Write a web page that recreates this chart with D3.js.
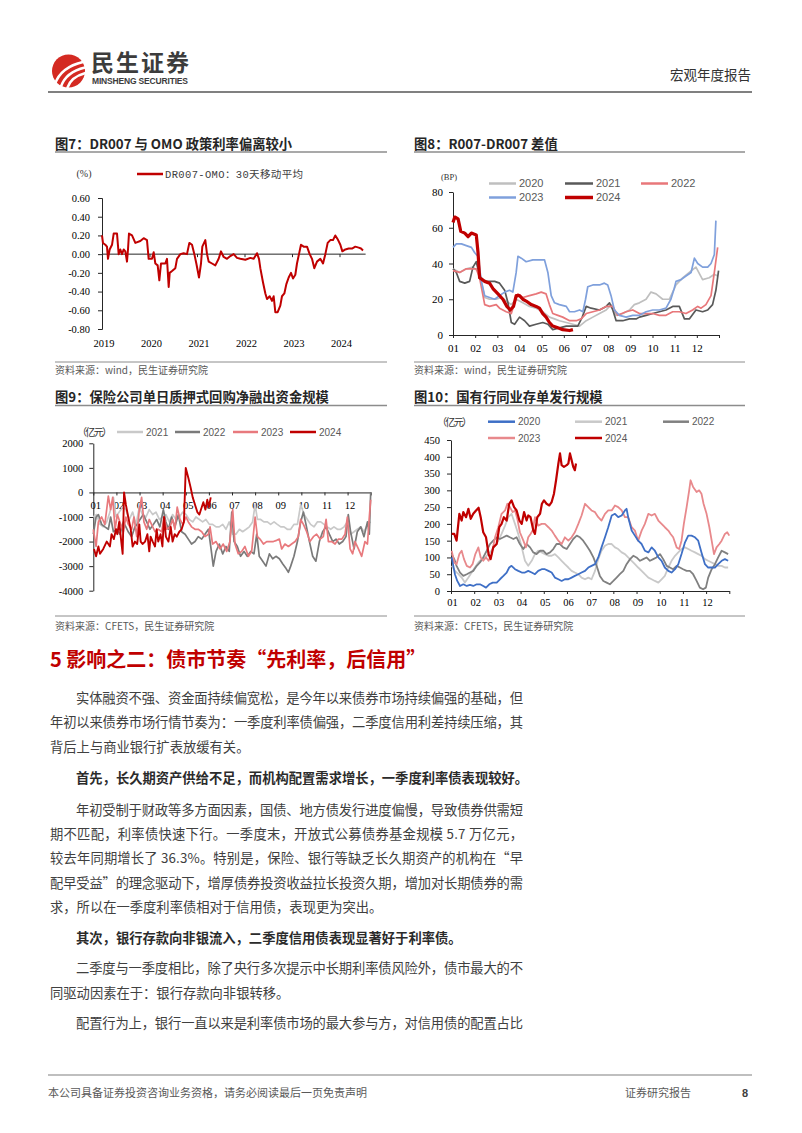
<!DOCTYPE html>
<html><head><meta charset="utf-8">
<script src="https://cdn.jsdelivr.net/npm/d3@7"></script>
<style>html,body{margin:0;padding:0;background:#fff;}svg{display:block;}</style>
</head><body>
<svg id="page" width="802" height="1133"></svg>
<script>
// ---------------- DATA ----------------
// Fig 7: DR007-OMO 30-day moving average, [decimal year, %]
const c7Series = [[2019.00,0.20],[2019.02,0.12],[2019.07,0.10],[2019.105,0.08],[2019.126,-0.05],[2019.161,0.05],[2019.211,0.10],[2019.246,0.22],[2019.316,0.22],[2019.351,0.00],[2019.386,0.05],[2019.421,0.00],[2019.456,0.05],[2019.491,0.03],[2019.526,-0.08],[2019.547,0.05],[2019.568,0.22],[2019.632,0.20],[2019.702,0.12],[2019.807,0.14],[2019.877,0.17],[2019.947,0.15],[2019.982,-0.05],[2020.053,-0.05],[2020.088,0.02],[2020.123,-0.10],[2020.172,-0.12],[2020.207,-0.28],[2020.242,-0.10],[2020.333,-0.10],[2020.368,-0.05],[2020.404,-0.35],[2020.425,-0.20],[2020.474,-0.18],[2020.544,-0.15],[2020.579,-0.05],[2020.649,0.00],[2020.719,0.01],[2020.789,0.00],[2020.839,0.12],[2020.895,0.10],[2020.944,0.00],[2020.986,-0.10],[2021.042,-0.25],[2021.084,-0.10],[2021.112,0.08],[2021.175,0.15],[2021.211,0.00],[2021.246,-0.08],[2021.316,-0.10],[2021.386,-0.12],[2021.456,-0.05],[2021.505,0.03],[2021.561,-0.03],[2021.632,-0.05],[2021.702,-0.02],[2021.772,0.00],[2021.842,-0.04],[2021.912,-0.05],[2022.018,-0.06],[2022.123,-0.04],[2022.193,-0.05],[2022.263,0.01],[2022.305,-0.05],[2022.333,-0.15],[2022.389,-0.30],[2022.439,-0.42],[2022.474,-0.48],[2022.530,-0.45],[2022.579,-0.50],[2022.614,-0.45],[2022.649,-0.62],[2022.698,-0.62],[2022.754,-0.55],[2022.789,-0.45],[2022.839,-0.42],[2022.881,-0.32],[2022.930,-0.25],[2022.979,-0.20],[2023.021,-0.26],[2023.070,-0.22],[2023.105,-0.10],[2023.147,0.00],[2023.189,0.10],[2023.246,0.08],[2023.316,0.08],[2023.372,0.00],[2023.421,-0.05],[2023.470,-0.15],[2023.526,-0.08],[2023.596,-0.05],[2023.653,-0.10],[2023.702,0.00],[2023.751,0.12],[2023.807,0.15],[2023.863,0.15],[2023.912,0.20],[2023.961,0.16],[2024.018,0.10],[2024.060,0.03],[2024.123,0.05],[2024.193,0.06],[2024.263,0.06],[2024.333,0.08],[2024.404,0.07],[2024.453,0.06],[2024.495,0.04]];
const c7YTicks = [-0.8,-0.6,-0.4,-0.2,0,0.2,0.4,0.6];
const c7Years = [2019,2020,2021,2022,2023,2024];

// Fig 8: R007-DR007 spread (BP), [month offset, value]
const c8_2020 = [[0,37],[0.30,35],[0.60,37],[0.90,38],[1.20,35],[1.43,21],[1.65,20],[1.95,20],[2.18,21],[2.40,19],[2.63,17],[2.85,20],[3.15,18],[3.45,16],[3.75,15],[4.05,13],[4.35,10],[4.58,9],[4.80,8],[5.11,7],[5.41,6],[5.71,5],[6.01,8],[6.31,10],[6.61,12],[6.91,14],[7.13,17],[7.36,11],[7.66,12],[7.96,14],[8.18,17],[8.41,18],[8.71,20],[8.93,24],[9.16,23],[9.46,20],[9.76,20],[10.06,28],[10.36,32],[10.66,35],[10.96,38],[11.26,31],[11.56,32],[11.79,34],[11.94,33]];
const c8_2021 = [[0,37],[0.15,35],[0.30,30],[0.53,29],[0.75,30],[0.90,38],[1.05,41],[1.20,33],[1.43,30],[1.65,30],[1.88,30],[2.10,29],[2.33,25],[2.48,18],[2.63,7],[2.78,6],[3.00,10],[3.23,8],[3.45,5],[3.75,6],[4.05,7],[4.28,6],[4.50,3],[4.80,4],[5.11,5],[5.41,5],[5.63,5],[5.83,10],[6.01,16],[6.23,15],[6.61,14],[6.91,16],[7.06,18],[7.21,14],[7.36,8],[7.66,8],[7.96,9],[8.26,9],[8.41,10],[8.71,11],[9.01,12],[9.31,13],[9.61,14],[9.91,16],[10.21,16],[10.44,9],[10.66,9],[10.96,14],[11.26,13],[11.49,14],[11.71,17],[11.86,25],[11.98,36]];
const c8_2022 = [[0,36],[0.30,35],[0.60,37],[0.90,37],[1.05,37],[1.20,32],[1.43,17],[1.65,16],[1.95,17],[2.10,15],[2.40,13],[2.63,12],[2.78,18],[2.93,23],[3.15,21],[3.45,22],[3.75,23],[3.98,24],[4.20,23],[4.35,17],[4.50,12],[4.73,11],[4.95,10],[5.26,8],[5.56,8],[5.78,9],[6.01,12],[6.31,13],[6.61,14],[6.91,16],[7.21,16],[7.43,11],[7.81,13],[8.11,14],[8.41,12],[8.71,12],[9.01,12],[9.31,11],[9.61,11],[9.91,13],[10.21,13],[10.51,12],[10.81,14],[11.04,16],[11.19,15],[11.41,17],[11.64,22],[11.79,35],[11.94,49]];
const c8_2023 = [[0,49],[0.15,51],[0.38,51],[0.60,50],[0.83,49],[0.98,46],[1.13,44],[1.28,30],[1.43,22],[1.65,21],[1.88,20],[2.10,22],[2.33,24],[2.55,25],[2.70,24],[2.85,35],[2.93,44],[3.08,43],[3.30,41],[3.60,42],[3.90,42],[4.13,42],[4.28,35],[4.43,22],[4.58,18],[4.80,17],[5.11,16],[5.26,13],[5.48,13],[5.71,14],[5.86,13],[5.98,20],[6.08,27],[6.31,28],[6.61,28],[6.83,29],[6.98,28],[7.13,22],[7.28,14],[7.51,11],[7.81,10],[8.11,11],[8.41,11],[8.71,13],[9.01,14],[9.31,14],[9.61,15],[9.83,20],[9.98,26],[10.06,30],[10.29,31],[10.51,33],[10.74,35],[10.89,43],[11.04,40],[11.26,38],[11.49,38],[11.64,40],[11.79,45],[11.86,64]];
const c8_2024 = [[0,63],[0.08,66],[0.23,65],[0.35,58],[0.53,57],[0.68,55],[0.83,57],[1.05,56],[1.13,46],[1.20,32],[1.43,30],[1.65,29],[1.80,26],[2.03,23],[2.25,20],[2.43,16],[2.58,14],[2.73,16],[2.85,22],[3.00,22],[3.15,20],[3.30,19],[3.53,17],[3.75,16],[3.90,15],[4.05,12],[4.20,10],[4.35,7],[4.50,5],[4.73,4],[4.95,3],[5.26,2.5],[5.41,3]];
const c8YTicks = [0,20,40,60,80];

// Fig 9: insurers' net repo lending (亿元), [month offset, value]
const c9_2021 = [[0,-1000],[0.14,-900],[0.29,-1300],[0.43,-1400],[0.58,-1200],[0.72,-800],[0.87,-200],[0.98,-1000],[1.12,-800],[1.27,-600],[1.41,-700],[1.56,-1100],[1.70,-800],[1.85,-1300],[1.99,-600],[2.13,-900],[2.28,-1000],[2.42,-700],[2.57,-900],[2.71,-800],[2.86,-1100],[3.00,-1000],[3.14,-900],[3.29,-1200],[3.43,-900],[3.58,-1100],[3.72,-1000],[3.87,-800],[4.01,-900],[4.15,-1100],[4.30,-1200],[4.44,-1000],[4.59,-1100],[4.73,-1200],[4.87,-1100],[5.02,-1300],[5.16,-1300],[5.31,-1400],[5.45,-1400],[5.60,-1300],[5.74,-1500],[5.88,-1200],[6.03,-1700],[6.17,-1700],[6.32,-1500],[6.46,-1600],[6.61,-1500],[6.75,-1400],[6.89,-1200],[7.00,-500],[7.10,-1100],[7.24,-1100],[7.38,-1200],[7.53,-1200],[7.67,-1300],[7.82,-1200],[7.96,-1300],[8.11,-1400],[8.25,-1400],[8.39,-1500],[8.54,-1500],[8.68,-1300],[8.83,-1300],[8.97,-500],[9.12,-900],[9.26,-1100],[9.40,-1300],[9.55,-1400],[9.69,-1200],[9.84,-1200],[9.98,-1300],[10.12,-1400],[10.27,-1500],[10.41,-1400],[10.56,-1500],[10.70,-1500],[10.85,-1400],[10.99,-1200],[11.13,-1700],[11.28,-1600],[11.42,-1500],[11.57,-1400],[11.71,-1600],[11.86,-1300],[12.00,-1200]];
const c9_2022 = [[0,-1700],[0.12,-1000],[0.22,-900],[0.36,-1300],[0.50,-1400],[0.65,-1500],[0.75,-1000],[0.87,-1600],[1.01,-1500],[1.15,-1700],[1.30,-1200],[1.41,-1400],[1.51,-1600],[1.66,-1800],[1.80,-1400],[1.90,-1300],[2.02,-1100],[2.16,-900],[2.31,-1200],[2.45,-1500],[2.60,-1300],[2.74,-1100],[2.88,-1400],[3.03,-700],[3.14,-1200],[3.25,-1500],[3.39,-1000],[3.53,-1400],[3.68,-900],[3.82,-1600],[3.97,-1700],[4.11,-1900],[4.25,-2100],[4.40,-2000],[4.54,-1800],[4.69,-1900],[4.83,-1700],[4.98,-1500],[5.08,-2200],[5.19,-3000],[5.31,-2400],[5.45,-2100],[5.60,-2500],[5.74,-2200],[5.88,-2400],[5.99,-800],[6.09,-2000],[6.23,-2200],[6.37,-2600],[6.52,-2400],[6.66,-2600],[6.81,-2400],[6.95,-2500],[7.07,-1700],[7.18,-2600],[7.33,-2800],[7.47,-3000],[7.62,-2500],[7.76,-2700],[7.90,-2600],[8.05,-2700],[8.19,-2900],[8.34,-3100],[8.44,-3250],[8.54,-3000],[8.68,-2600],[8.83,-2000],[8.97,-1200],[9.09,-800],[9.20,-1300],[9.35,-2000],[9.49,-2600],[9.63,-2800],[9.78,-2000],[9.92,-1600],[10.07,-1400],[10.21,-1700],[10.36,-2000],[10.50,-1900],[10.64,-2100],[10.79,-2000],[10.93,-1800],[11.03,-900],[11.13,-1600],[11.28,-2300],[11.42,-1600],[11.57,-1400],[11.71,-1800],[11.86,-1200],[11.94,-1700],[12.00,0]];
const c9_2023 = [[0,-1500],[0.12,-2200],[0.22,-1200],[0.36,-1000],[0.50,-1300],[0.65,-150],[0.75,-700],[0.84,-200],[0.94,-1500],[1.04,-900],[1.15,-1200],[1.30,-1600],[1.41,-1000],[1.51,-1300],[1.66,-1500],[1.76,-1000],[1.88,-1800],[1.99,-700],[2.09,-200],[2.19,-1200],[2.31,-1500],[2.42,-1100],[2.52,-1300],[2.67,-1600],[2.81,-1500],[2.96,-1600],[3.06,-1000],[3.17,-1500],[3.32,-1400],[3.43,-1100],[3.53,-1500],[3.63,-600],[3.75,-1100],[3.87,-1300],[4.01,-1000],[4.11,-1200],[4.25,-1400],[4.40,-1500],[4.54,-1500],[4.69,-1600],[4.83,-1800],[4.98,-1700],[5.05,-1400],[5.16,-2100],[5.31,-2000],[5.48,-2300],[5.62,-2100],[5.77,-2400],[5.91,-2000],[6.03,-700],[6.13,-2100],[6.27,-2500],[6.42,-2400],[6.56,-2200],[6.71,-2600],[6.85,-2400],[7.00,-1000],[7.10,-1800],[7.21,-1900],[7.36,-2100],[7.50,-2000],[7.64,-2000],[7.79,-2000],[7.93,-1950],[8.05,-1900],[8.15,-2300],[8.29,-2100],[8.44,-2200],[8.58,-2100],[8.73,-2000],[8.87,-1800],[8.97,-1100],[9.09,-1300],[9.23,-1600],[9.37,-2000],[9.52,-1800],[9.66,-1700],[9.81,-1900],[9.95,-1800],[10.07,-1100],[10.17,-2000],[10.31,-2000],[10.46,-2100],[10.60,-1900],[10.75,-1900],[10.89,-1700],[10.99,-1000],[11.11,-2300],[11.22,-2500],[11.32,-2000],[11.47,-2300],[11.61,-2600],[11.75,-2000],[11.86,-2100],[11.94,-1000],[12.00,-300]];
const c9_2024 = [[0.03,-2300],[0.12,-2600],[0.22,-2200],[0.29,-2500],[0.43,-2300],[0.58,-2000],[0.72,-2200],[0.79,-1700],[0.89,-1900],[0.98,-1500],[1.04,-1700],[1.12,-1200],[1.21,-2000],[1.27,-2500],[1.33,0],[1.41,-500],[1.51,-1000],[1.62,-1500],[1.70,-2200],[1.80,-2000],[1.90,-2100],[1.99,-1300],[2.05,-2000],[2.13,-2100],[2.24,-2000],[2.34,-1700],[2.42,-2400],[2.48,-1800],[2.57,-2000],[2.67,-2200],[2.74,-1500],[2.81,-2000],[2.91,-1700],[2.99,-2200],[3.06,-1000],[3.14,-1800],[3.25,-2000],[3.35,-1400],[3.43,-2000],[3.52,-1700],[3.61,-1800],[3.72,-1600],[3.82,-1500],[3.92,-1200],[4.00,1000],[4.11,600],[4.21,200],[4.30,-200],[4.40,-500],[4.50,-800],[4.59,-900],[4.69,-600],[4.76,-400],[4.85,-700],[4.93,-300],[5.00,-600],[5.08,-200]];
const c9YTicks = [-4000,-3000,-2000,-1000,0,1000,2000];

// Fig 10: big-bank NCD issuance (亿元), [month offset, value]
const c10_2020 = [[0.03,100],[0.10,75],[0.17,50],[0.27,30],[0.39,15],[0.53,20],[0.68,15],[0.82,18],[0.96,15],[1.11,20],[1.25,20],[1.39,15],[1.51,10],[1.65,20],[1.80,25],[1.97,25],[2.11,35],[2.26,45],[2.40,55],[2.51,70],[2.61,75],[2.76,65],[2.90,60],[3.05,55],[3.19,55],[3.33,60],[3.48,55],[3.62,50],[3.76,60],[3.91,65],[4.05,65],[4.20,60],[4.34,55],[4.48,40],[4.63,35],[4.77,30],[4.91,35],[5.06,35],[5.20,40],[5.34,45],[5.49,50],[5.63,55],[5.78,60],[5.92,70],[6.06,75],[6.21,80],[6.35,100],[6.49,130],[6.64,160],[6.78,190],[6.93,225],[7.07,230],[7.21,220],[7.36,225],[7.50,240],[7.57,245],[7.64,220],[7.79,180],[7.93,165],[8.07,150],[8.22,140],[8.36,120],[8.51,115],[8.65,130],[8.79,120],[8.94,100],[9.08,90],[9.22,70],[9.37,60],[9.51,55],[9.66,65],[9.80,80],[9.94,110],[10.09,145],[10.23,165],[10.37,165],[10.52,160],[10.66,150],[10.80,115],[10.95,80],[11.09,70],[11.24,70],[11.38,70],[11.52,80],[11.67,90],[11.81,95],[11.95,90]];
const c10_2021 = [[0.03,75],[0.17,60],[0.32,50],[0.46,40],[0.60,25],[0.75,40],[0.89,55],[1.03,70],[1.18,85],[1.32,95],[1.47,100],[1.61,110],[1.75,120],[1.90,135],[2.04,150],[2.18,170],[2.33,195],[2.47,220],[2.61,230],[2.76,200],[2.90,170],[3.05,130],[3.19,90],[3.33,75],[3.48,90],[3.62,110],[3.76,120],[3.91,115],[4.05,110],[4.20,105],[4.34,105],[4.48,110],[4.63,100],[4.77,90],[4.91,80],[5.06,70],[5.20,60],[5.34,55],[5.49,50],[5.63,40],[5.78,35],[5.92,40],[6.06,35],[6.21,60],[6.35,95],[6.49,120],[6.64,135],[6.78,140],[6.93,140],[7.07,130],[7.21,125],[7.36,115],[7.50,110],[7.64,100],[7.79,90],[7.93,80],[8.07,70],[8.22,60],[8.36,50],[8.51,40],[8.65,35],[8.79,30],[8.94,25],[9.08,35],[9.22,45],[9.37,70],[9.51,90],[9.66,105],[9.80,115],[9.94,125],[10.09,130],[10.23,125],[10.37,120],[10.52,115],[10.66,110],[10.80,105],[10.95,95],[11.09,90],[11.24,85],[11.38,80],[11.52,75],[11.67,75],[11.81,70],[11.95,70]];
const c10_2022 = [[0.03,110],[0.14,95],[0.24,75],[0.39,55],[0.53,45],[0.68,50],[0.82,55],[0.96,60],[1.11,75],[1.25,85],[1.39,100],[1.54,120],[1.68,140],[1.82,150],[1.97,160],[2.11,155],[2.26,160],[2.40,165],[2.54,160],[2.69,155],[2.83,160],[2.97,140],[3.12,125],[3.26,140],[3.41,130],[3.55,115],[3.69,110],[3.84,120],[3.98,120],[4.12,110],[4.27,115],[4.41,125],[4.55,140],[4.70,140],[4.84,130],[4.99,125],[5.13,140],[5.27,155],[5.42,165],[5.56,160],[5.70,150],[5.85,135],[5.99,120],[6.14,100],[6.28,75],[6.42,45],[6.57,30],[6.71,25],[6.85,20],[7.00,30],[7.14,40],[7.28,50],[7.43,60],[7.57,80],[7.72,95],[7.86,105],[8.00,100],[8.15,90],[8.29,95],[8.43,100],[8.58,90],[8.72,95],[8.86,100],[9.01,110],[9.15,95],[9.30,75],[9.44,70],[9.58,65],[9.73,75],[9.87,70],[10.01,65],[10.16,60],[10.30,60],[10.44,50],[10.59,30],[10.73,10],[10.87,5],[10.99,10],[11.09,40],[11.24,65],[11.38,80],[11.52,100],[11.67,120],[11.81,115],[11.95,110]];
const c10_2023 = [[0.03,120],[0.14,85],[0.24,80],[0.36,110],[0.46,120],[0.56,95],[0.68,75],[0.82,70],[0.93,80],[1.05,110],[1.18,130],[1.28,100],[1.39,90],[1.51,100],[1.62,90],[1.75,110],[1.90,160],[2.04,190],[2.18,230],[2.33,240],[2.43,260],[2.54,250],[2.66,235],[2.76,240],[2.86,215],[2.97,175],[3.12,150],[3.23,130],[3.33,160],[3.43,170],[3.52,180],[3.62,220],[3.76,195],[3.91,200],[4.05,200],[4.20,190],[4.34,180],[4.48,165],[4.63,150],[4.77,140],[4.91,160],[5.06,150],[5.20,160],[5.34,175],[5.49,200],[5.63,225],[5.78,260],[5.92,250],[6.06,240],[6.21,235],[6.35,220],[6.49,210],[6.64,230],[6.78,240],[6.93,240],[7.07,255],[7.21,250],[7.36,240],[7.50,220],[7.64,220],[7.79,190],[7.93,180],[8.07,150],[8.22,180],[8.36,200],[8.51,230],[8.65,225],[8.79,230],[8.94,210],[9.08,200],[9.22,190],[9.37,180],[9.47,170],[9.58,160],[9.73,130],[9.84,125],[9.94,150],[10.04,200],[10.16,250],[10.27,300],[10.33,330],[10.44,310],[10.59,295],[10.70,300],[10.80,290],[10.89,260],[11.02,230],[11.14,190],[11.24,150],[11.34,110],[11.45,130],[11.57,140],[11.67,150],[11.81,170],[11.91,175],[12.00,165]];
const c10_2024 = [[0.03,170],[0.14,170],[0.24,150],[0.36,230],[0.46,210],[0.53,235],[0.65,220],[0.75,245],[0.85,215],[0.96,230],[1.08,240],[1.19,248],[1.28,220],[1.39,175],[1.51,160],[1.62,110],[1.71,95],[1.82,130],[1.97,140],[2.08,190],[2.18,200],[2.28,220],[2.40,210],[2.51,260],[2.61,270],[2.72,250],[2.83,240],[2.95,210],[3.05,200],[3.15,235],[3.26,210],[3.33,225],[3.43,220],[3.55,180],[3.62,170],[3.72,220],[3.84,230],[3.92,260],[4.01,270],[4.12,260],[4.24,255],[4.34,265],[4.44,290],[4.53,330],[4.63,380],[4.70,410],[4.77,375],[4.87,370],[4.99,375],[5.06,380],[5.13,410],[5.20,390],[5.27,370],[5.34,360],[5.39,380]];
const c10YTicks = [0,50,100,150,200,250,300,350,400,450];

const monthLabels = ["01","02","03","04","05","06","07","08","09","10","11","12"];

// ---------------- HELPERS ----------------
const svg = d3.select("#page");
const CJK = "'Noto Sans CJK SC','Noto Sans',sans-serif";
const SERIF = "'Liberation Serif','Times New Roman',serif";
const SANS = "'Liberation Sans',Arial,sans-serif";
const MONO = "'Liberation Mono','Noto Sans CJK SC',monospace";

function txt(x, y, s, o = {}) {
  const t = svg.append("text").attr("x", x).attr("y", y).text(s)
    .attr("font-family", o.family || CJK).attr("font-size", o.size || 12)
    .attr("fill", o.fill || "#333").attr("font-weight", o.weight || 400)
    .attr("text-anchor", o.anchor || "start");
  if (o.len) t.attr("textLength", o.len).attr("lengthAdjust", "spacing");
  return t;
}
function hline(x1, x2, y, color, w) {
  svg.append("line").attr("x1", x1).attr("x2", x2).attr("y1", y).attr("y2", y)
    .attr("stroke", color).attr("stroke-width", w);
}
function chartTitle(x, y, s, x2, ly) {
  txt(x, y, s, {size: 13.3, weight: 700, fill: "#262626"});
  hline(x, x2, ly, "#8c8c8c", 1.5);
}
function styleAxis(g, size, family) {
  g.attr("font-family", family).attr("font-size", size);
  g.select(".domain").attr("stroke", "#262626").attr("stroke-width", 1);
  g.selectAll(".tick line").attr("stroke", "#262626");
  g.selectAll(".tick text").attr("fill", "#000");
}
function legendItem(x1, x2, y, color, w, label, size, family) {
  hline(x1, x2, y, color, w);
  txt(x2 + 3, y + size * 0.36, label, {size: size, family: family || SANS, fill: "#595959"});
}
function drawLine(data, x, y, color, w) {
  svg.append("path").datum(data)
    .attr("d", d3.line().x(d => x(d[0])).y(d => y(d[1])))
    .attr("fill", "none").attr("stroke", color).attr("stroke-width", w)
    .attr("stroke-linejoin", "round");
}

// ---------------- HEADER ----------------
svg.append("circle").attr("cx", 68.5).attr("cy", 71).attr("r", 16.5).attr("fill", "#d42a22");
[["M55,84 Q61,67 83,62",2.6],["M61,86.5 Q66,72 85,67.5",2.6],["M67.5,87.5 Q71,77 85.5,73",2.4]].forEach(p=>{
  svg.append("path").attr("d", p[0]).attr("fill","none").attr("stroke","#fff").attr("stroke-width",p[1]).attr("stroke-linecap","round");
});
txt(91, 71, "民生证券", {size: 23, weight: 700, fill: "#3c3c3c", len: 98});
txt(92, 84, "MINSHENG SECURITIES", {size: 8.5, weight: 700, fill: "#3c3c3c", family: SANS, len: 96});
txt(751, 80, "宏观年度报告", {size: 13.5, fill: "#333", anchor: "end"});
hline(48, 752, 92, "#808080", 2);

// ---------------- FIG 7 ----------------
chartTitle(55, 148.5, "图7：DR007 与 OMO 政策利率偏离较小", 387, 152);
{
  const x = d3.scaleLinear().domain([2019, 2025]).range([102, 387]);
  const y = d3.scaleLinear().domain([-0.8, 0.6]).range([329, 198]);
  const ga = svg.append("g").attr("transform", "translate(102,0)")
    .call(d3.axisLeft(y).tickValues(c7YTicks).tickFormat(d => d.toFixed(2)).tickSize(4).tickPadding(8));
  styleAxis(ga, 10.5, SERIF);
  const gx = svg.append("g").attr("transform", `translate(0,${y(0)})`)
    .call(d3.axisBottom(x).tickValues(c7Years).tickFormat("").tickSize(3).tickSizeOuter(0));
  gx.select(".domain").attr("d", `M${x(2019)},0H${x(2024.55)}`).attr("stroke", "#262626");
  gx.selectAll(".tick line").attr("stroke", "#262626");
  c7Years.forEach(yr => txt(x(yr) + 2, 347, String(yr), {size: 10.5, family: SERIF, fill: "#000", anchor: "middle"}));
  drawLine(c7Series, x, y, "#c00000", 2);
  txt(84, 177, "(%)", {size: 10, family: SERIF, fill: "#333", anchor: "middle"});
  hline(137, 163, 174, "#c00000", 2.5);
  txt(165, 177.5, "DR007-OMO：30天移动平均", {size: 10.5, family: MONO, fill: "#404040", len: 138});
}
hline(55, 387, 362, "#8c8c8c", 1);
txt(55, 374, "资料来源：wind，民生证券研究院", {size: 10, fill: "#595959"});

// ---------------- FIG 8 ----------------
chartTitle(414, 148.5, "图8：R007-DR007 差值", 745, 152);
{
  const x = d3.scaleLinear().domain([0, 12]).range([453, 719]);
  const y = d3.scaleLinear().domain([0, 80]).range([335, 192]);
  const ga = svg.append("g").attr("transform", "translate(453,0)")
    .call(d3.axisLeft(y).tickValues(c8YTicks).tickFormat(d => String(d)).tickSize(4).tickPadding(6).tickSizeOuter(0));
  styleAxis(ga, 11, SERIF);
  const gx = svg.append("g").attr("transform", `translate(0,${y(0)})`)
    .call(d3.axisBottom(x).tickValues(d3.range(0, 13)).tickFormat(i => monthLabels[i] || "").tickSize(3).tickPadding(6).tickSizeOuter(0));
  styleAxis(gx, 11, SERIF);
  drawLine(c8_2020, x, y, "#bfbfbf", 1.7);
  drawLine(c8_2021, x, y, "#595959", 1.7);
  drawLine(c8_2022, x, y, "#e8777a", 1.7);
  drawLine(c8_2023, x, y, "#7fa0dc", 1.7);
  drawLine(c8_2024, x, y, "#c00000", 3.2);
  txt(449, 180, "(BP)", {size: 8.5, family: SERIF, fill: "#333", anchor: "middle"});
  legendItem(489, 516, 183.5, "#bfbfbf", 2.5, "2020", 11);
  legendItem(565, 593, 183.5, "#595959", 2.5, "2021", 11);
  legendItem(641, 668, 183.5, "#e8777a", 2.5, "2022", 11);
  legendItem(489, 516, 197.5, "#7fa0dc", 2.5, "2023", 11);
  legendItem(565, 593, 197.5, "#c00000", 3.5, "2024", 11);
}
hline(414, 745, 362, "#8c8c8c", 1);
txt(414, 374, "资料来源：wind，民生证券研究院", {size: 10, fill: "#595959"});

// ---------------- FIG 9 ----------------
chartTitle(55, 402, "图9：保险公司单日质押式回购净融出资金规模", 387, 405.5);
{
  const x = d3.scaleLinear().domain([0, 12]).range([93.3, 370.7]);
  const y = d3.scaleLinear().domain([-4000, 2000]).range([590.7, 443.3]);
  const ga = svg.append("g").attr("transform", "translate(93.3,0)")
    .call(d3.axisLeft(y).tickValues(c9YTicks).tickFormat(d => String(d)).tickSize(4).tickPadding(6).tickSizeOuter(0));
  styleAxis(ga, 10.5, SERIF);
  const gx = svg.append("g").attr("transform", `translate(0,${y(0)})`)
    .call(d3.axisBottom(x).tickValues(d3.range(0, 13)).tickFormat(i => monthLabels[i] || "").tickSize(3).tickPadding(6).tickSizeOuter(0));
  styleAxis(gx, 10.5, SERIF);
  gx.selectAll(".tick text").attr("dx", 2);
  drawLine(c9_2021, x, y, "#c9c9c9", 1.7);
  drawLine(c9_2022, x, y, "#7a7a7a", 1.7);
  drawLine(c9_2023, x, y, "#e8797d", 1.7);
  drawLine(c9_2024, x, y, "#c00000", 1.9);
  txt(77, 436, "（亿元）", {size: 10, fill: "#333", len: 35});
  legendItem(117, 143, 432, "#c9c9c9", 2.5, "2021", 10);
  legendItem(175, 200, 432, "#7a7a7a", 2.5, "2022", 10);
  legendItem(233, 258, 432, "#e8797d", 2.5, "2023", 10);
  legendItem(290, 316, 432, "#c00000", 2.5, "2024", 10);
}
hline(55, 387, 616, "#8c8c8c", 1);
txt(55, 630, "资料来源：CFETS，民生证券研究院", {size: 10, fill: "#595959"});

// ---------------- FIG 10 ----------------
chartTitle(414, 402, "图10：国有行同业存单发行规模", 745, 405.5);
{
  const x = d3.scaleLinear().domain([0, 12]).range([451, 729.3]);
  const y = d3.scaleLinear().domain([0, 450]).range([591, 440]);
  const ga = svg.append("g").attr("transform", "translate(451,0)")
    .call(d3.axisLeft(y).tickValues(c10YTicks).tickFormat(d => String(d)).tickSize(4).tickPadding(7).tickSizeOuter(0));
  styleAxis(ga, 10.5, SERIF);
  const gx = svg.append("g").attr("transform", `translate(0,${y(0)})`)
    .call(d3.axisBottom(x).tickValues(d3.range(0, 13)).tickFormat(i => monthLabels[i] || "").tickSize(3).tickPadding(5).tickSizeOuter(0));
  styleAxis(gx, 10.5, SERIF);
  gx.selectAll(".tick text").attr("dx", 1);
  drawLine(c10_2021, x, y, "#c9c9c9", 1.8);
  drawLine(c10_2022, x, y, "#808080", 1.8);
  drawLine(c10_2023, x, y, "#e8898c", 1.8);
  drawLine(c10_2020, x, y, "#3e6fc6", 1.8);
  drawLine(c10_2024, x, y, "#c00000", 2.2);
  txt(437, 426, "（亿元）", {size: 10, fill: "#333", len: 35});
  legendItem(488, 515, 421.7, "#3e6fc6", 2.5, "2020", 10);
  legendItem(575, 602, 421.7, "#c9c9c9", 2.5, "2021", 10);
  legendItem(663, 689, 421.7, "#808080", 2.5, "2022", 10);
  legendItem(488, 515, 438, "#e8898c", 2.5, "2023", 10);
  legendItem(575, 602, 438, "#c00000", 2.5, "2024", 10);
}
hline(414, 745, 616, "#8c8c8c", 1);
txt(414, 630, "资料来源：CFETS，民生证券研究院", {size: 10, fill: "#595959"});

// ---------------- BODY TEXT ----------------
txt(50, 667, "5 影响之二：债市节奏“先利率，后信用”", {size: 20, weight: 700, fill: "#c00000"});
const RIGHT = 523;
const bodyLines = [
  [76, 703, "实体融资不强、资金面持续偏宽松，是今年以来债券市场持续偏强的基础，但", true, false],
  [50, 727, "年初以来债券市场行情节奏为：一季度利率债偏强，二季度信用利差持续压缩，其", true, false],
  [50, 752, "背后上与商业银行扩表放缓有关。", false, false],
  [76, 783, "首先，长久期资产供给不足，而机构配置需求增长，一季度利率债表现较好。", false, true],
  [76, 815, "年初受制于财政等多方面因素，国债、地方债发行进度偏慢，导致债券供需短", true, false],
  [50, 839, "期不匹配，利率债快速下行。一季度末，开放式公募债券基金规模 5.7 万亿元，", true, false],
  [50, 863, "较去年同期增长了 36.3%。特别是，保险、银行等缺乏长久期资产的机构在“早", true, false],
  [50, 888, "配早受益”的理念驱动下，增厚债券投资收益拉长投资久期，增加对长期债券的需", true, false],
  [50, 912, "求，所以在一季度利率债相对于信用债，表现更为突出。", false, false],
  [76, 943, "其次，银行存款向非银流入，二季度信用债表现显著好于利率债。", false, true],
  [76, 973, "二季度与一季度相比，除了央行多次提示中长期利率债风险外，债市最大的不", true, false],
  [50, 998, "同驱动因素在于：银行存款向非银转移。", false, false],
  [76, 1028, "配置行为上，银行一直以来是利率债市场的最大参与方，对信用债的配置占比", true, false]
];
bodyLines.forEach(([x, y, s, just, bold]) => {
  txt(x, y, s, {size: 13.3, weight: bold ? 700 : 400, fill: bold ? "#2b2b2b" : "#404040", len: just ? RIGHT - x : null});
});

// ---------------- FOOTER ----------------
hline(48, 752, 1075, "#808080", 1.2);
txt(48, 1097, "本公司具备证券投资咨询业务资格，请务必阅读最后一页免责声明", {size: 11, fill: "#595959"});
txt(625, 1097, "证券研究报告", {size: 11, fill: "#595959"});
txt(745, 1097, "8", {size: 11, fill: "#404040", weight: 700, family: SANS, anchor: "middle"});
</script>
</body></html>
